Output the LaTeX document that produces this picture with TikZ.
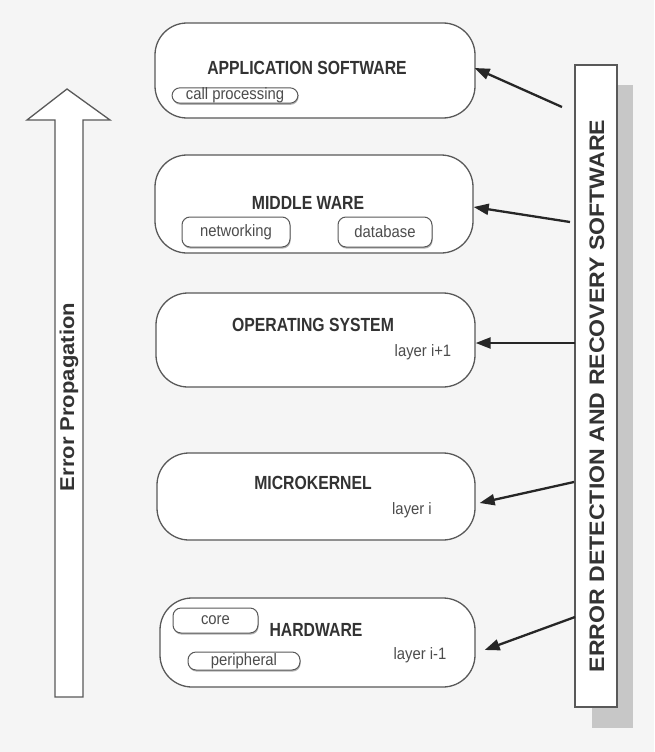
\documentclass[tikz,border=0pt]{standalone}
\usepackage{fontspec}
\setmainfont{Liberation Sans}
\newfontfamily\headfont[FakeStretch=0.83]{Liberation Sans}
\newfontfamily\smallfont[FakeStretch=0.9]{Liberation Sans}
\newfontfamily\sidefont[FakeStretch=1.1]{Liberation Sans}
\usetikzlibrary{arrows.meta,shadows}

\begin{document}
\begin{tikzpicture}[x=1pt,y=-1pt,
  layerbox/.style={draw=black!65, line width=1.3pt, fill=white,
    rounded corners=32pt, inner sep=0pt},
  subbox/.style={draw=black!65, line width=1pt, fill=white,
    rounded corners=8pt, inner sep=0pt,
    font=\smallfont\fontsize{16.5}{16.5}\selectfont, text=black!70,
    drop shadow={shadow xshift=0.6pt, shadow yshift=-1.6pt, fill=black!60}},
  title/.style={font=\headfont\bfseries\fontsize{19}{19}\selectfont,
    text=black!80, inner sep=0pt},
  tag/.style={font=\smallfont\fontsize{16.5}{16.5}\selectfont, text=black!70,
    inner sep=0pt},
  feed/.style={line width=2.3pt, draw=black!85,
    -{Triangle[length=15pt,width=11pt]}},
]
% page background
\fill[black!4] (0,0) rectangle (654,752);

% the five software / hardware layers
\node[layerbox, minimum width=320pt, minimum height=95pt] (app) at (315,70.5) {};
\node[layerbox, minimum width=318pt, minimum height=98pt] (mw)  at (314,204) {};
\node[layerbox, minimum width=319pt, minimum height=94pt] (os)  at (315.5,340) {};
\node[layerbox, minimum width=318pt, minimum height=87pt] (mk)  at (316,496.5) {};
\node[layerbox, minimum width=315pt, minimum height=89pt] (hw)  at (317.5,642.5) {};

% layer titles
\node[title] (appt) at (307,68)  {APPLICATION SOFTWARE};
\node[title] (mwt)  at (308,203) {MIDDLE WARE};
\node[title] (ost)  at (313,325) {OPERATING SYSTEM};
\node[title] (mkt)  at (313,483) {MICROKERNEL};
\node[title] (hwt)  at (316,630) {HARDWARE};

% layer indices
\node[tag] (osl) at (423,352) {layer i+1};
\node[tag] (mkl) at (412,510) {layer i};
\node[tag] (hwl) at (420,655) {layer i-1};

% components inside the layers
\node[subbox, minimum width=126pt, minimum height=15pt] (cp)  at (235,95.5) {call processing};
\node[subbox, minimum width=108pt, minimum height=30pt] (net) at (236,232)  {networking};
\node[subbox, minimum width=94pt,  minimum height=30pt] (db)  at (385,232)  {database};
\node[subbox, minimum width=85pt,  minimum height=25pt] (core) at (215.5,620.5) {core};
\node[subbox, minimum width=112pt, minimum height=18pt] (per) at (244,661)  {peripheral};

% error detection and recovery column with its shadow
\fill[black!22] (592,85) rectangle (633,728);
\node[draw=black!65, line width=1.3pt, fill=white, inner sep=0pt,
  minimum width=42pt, minimum height=642pt] (ed) at (596,386) {};
\node[rotate=90, font=\sidefont\bfseries\fontsize{21}{21}\selectfont,
  text=black!80, inner sep=0pt] (edt) at (597,396)
  {ERROR DETECTION AND RECOVERY SOFTWARE};

% error propagation arrow
\draw[draw=black!65, line width=1.3pt, fill=white, line join=miter]
  (67,89) -- (110,120) -- (83,120) -- (83,697) -- (55,697) -- (55,120)
  -- (27,120) -- cycle;
\node[rotate=90, font=\sidefont\bfseries\fontsize{20}{20}\selectfont,
  text=black!80, inner sep=0pt] (ep) at (69,397) {Error Propagation};

% feedback from the detection column into each layer
\coordinate (s1) at (562,107);
\coordinate (s2) at (570,222);
\coordinate (s3) at (575,343);
\coordinate (s4) at (574,482);
\coordinate (s5) at (575,617);
\draw[feed] (s1) -- ([xshift=-1pt,yshift=2.5pt]app.east);
\draw[feed] (s2) -- ([yshift=-3pt]mw.east);
\draw[feed] (s3) -- ([yshift=-3pt]os.east);
\draw[feed] (s4) -- ([xshift=4pt,yshift=-6.5pt]mk.east);
\draw[feed] (s5) -- ([xshift=9pt,yshift=-7.5pt]hw.east);
\end{tikzpicture}
\end{document}
